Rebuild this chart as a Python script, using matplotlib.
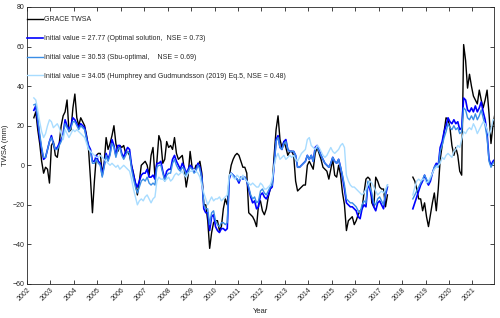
import numpy as np
import matplotlib
matplotlib.use("Agg")
import matplotlib.pyplot as plt

plt.rcParams['font.family'] = ['Liberation Sans', 'DejaVu Sans']

# ---- month indices (months since Jan 2002) ----
months_grace = list(range(3, 185))      # Apr 2002 .. May 2017
months_fo = list(range(197, 240))       # Jun 2018 .. Dec 2021

# ---- GRACE TWSA (mm) ----
grace_1 = [24, 27, 18, 11, 2, -4, -1, -2, -9,
           10, 12, 5, 4, 11, 20, 25, 27, 33, 17, 18, 29,
           36, 24, 20, 24, 22, 20, 15, 8, -7, -24, -8, 5,
           6, 6, -4, 1, 14, 8, 11, 15, 20, 11, 7, 10,
           9, 10, 6, 7, 5, 0, -4, -9, -15, -8, 0, 1,
           2, 0, -5, 5, 9, -6, 2, 15, 12, 1, 3, 12,
           9, 10, 8, 14, 6, 3, 4, 5, -2, -11, -5, 7,
           -1, -3, 0, 0, 2, -4, -20, -20, -28, -42, -34, -29,
           -28, -28, -33, -31, -22, -17, -20, -6, 0, 3, 5, 6,
           5, 2, -1, -1, -4, -24, -25, -26, -28, -31, -20, -18,
           -23, -25, -22, -16, -12, -10, 5, 18, 25, 13, 9, 12,
           9, 5, 7, 7, 5, -8, -13, -12, -11, -10, -10, 0,
           2, 0, -2, 6, 9, 6, 3, -1, -2, -3, -7, -2,
           3, -5, -6, 0, -5, -14, -20, -33, -28, -27, -26, -30,
           -28, -25, -23, -22, -14, -7, -6, -7, -19, -21, -6, -8,
           -11, -12, -12, -21, -15]
grace_2 = [-6, -8, -12, -17, -17, -23, -19, -26, -31, -25, -19, -14,
           -23, -12, 3, 10, 17, 24, 23, 19, 10, 5, 9, 5,
           -3, -5, 61, 53, 39, 46, 40, 35, 33, 31, 38, 33,
           29, 33, 38, 26, 11, 20, 26]

# ---- Optimal solution (initial value 27.77) ----
opt_1 = [27.77, 30, 22, 14, 8, 3, 4, 8, 12,
         15, 11, 8, 9, 11, 13, 16, 23, 20, 18, 20, 24,
         23, 21, 19, 21, 20, 19, 14, 10, 8, 2, 2, 5,
         2, 1, -5, 0, 6, 3, 6, 13, 10, 5, 10, 10,
         6, 4, 7, 9, 8, 0, -5, -9, -11, -8, -5, -4,
         -4, -2, -6, -6, -5, -7, 1, 1, 2, -3, -7, -3,
         -2, -2, 3, 5, 2, 0, -2, 1, -1, -4, -2, 0,
         -1, -3, -2, 1, -1, -6, -22, -24, -24, -33, -26, -25,
         -31, -33, -34, -32, -32, -33, -32, -7, -4, -5, -6, -7,
         -9, -6, -7, -6, -8, -12, -16, -19, -18, -22, -21, -15,
         -14, -16, -17, -15, -12, -11, 0, 13, 15, 9, 8, 12,
         13, 8, 7, 7, 7, 5, -1, -1, 0, 1, 2, 5,
         3, 5, 2, 9, 10, 8, 5, 3, 1, 0, -1, 1,
         4, 2, 1, 3, -1, -6, -12, -19, -20, -21, -21, -22,
         -23, -26, -27, -22, -20, -21, -9, -12, -16, -21, -23, -19,
         -18, -20, -22, -15, -11]
opt_2 = [-22, -19, -16, -13, -10, -8, -5, -8, -10, -8, -4, -1,
         1, 0, 9, 12, 17, 20, 24, 22, 21, 23, 21, 22,
         18, 19, 34, 33, 28, 27, 29, 27, 30, 27, 29, 32,
         27, 23, 16, 3, 0, 2, 3]

# ---- Sub-optimal (initial value 30.53) ----
sub_1 = [30.53, 31, 24, 16, 9, 4, 4, 8, 12,
         14, 11, 8, 8, 10, 12, 15, 21, 19, 17, 19, 22,
         22, 20, 18, 20, 19, 18, 13, 9, 7, 1, 1, 3,
         1, 0, -6, -1, 5, 2, 5, 11, 9, 4, 8, 9,
         5, 3, 5, 7, 6, -2, -7, -11, -14, -11, -8, -7,
         -8, -6, -9, -10, -9, -10, -1, 0, 0, -4, -8, -5,
         -4, -4, 1, 3, 0, -2, -3, -1, -2, -5, -3, -1,
         -2, -4, -3, 0, -2, -7, -20, -22, -22, -30, -24, -23,
         -28, -30, -31, -29, -29, -30, -29, -6, -4, -5, -6, -7,
         -8, -6, -7, -6, -8, -11, -15, -17, -16, -19, -18, -13,
         -12, -14, -15, -13, -11, -10, 0, 12, 14, 9, 8, 11,
         12, 8, 7, 7, 7, 5, -1, -1, 0, 1, 2, 5,
         3, 5, 2, 8, 9, 7, 5, 3, 1, 0, -1, 1,
         4, 2, 1, 3, -1, -5, -10, -17, -18, -19, -19, -20,
         -21, -23, -24, -20, -18, -19, -8, -11, -14, -19, -20, -17,
         -16, -18, -20, -14, -10]
sub_2 = [-17, -15, -13, -11, -9, -7, -5, -7, -9, -7, -4, -1,
         0, -1, 7, 10, 14, 17, 21, 19, 18, 20, 18, 19,
         16, 17, 29, 28, 24, 23, 25, 23, 26, 23, 25, 28,
         24, 20, 14, 2, -1, 1, 2]

# ---- Humphrey and Gudmundsson (2019) Eq.5 (initial value 34.05) ----
hum_1 = [34.05, 33, 28, 22, 17, 14, 16, 20, 23,
         22, 19, 20, 21, 19, 16, 13, 18, 16, 14, 16, 18,
         17, 18, 17, 16, 15, 14, 11, 8, 7, 6, 5, 4,
         4, 5, 4, 3, 2, 1, 0, 1, 0, -1, 0, -2,
         -1, 0, -1, -2, -3, -7, -12, -16, -20, -18, -17, -18,
         -16, -15, -17, -19, -17, -16, -8, -6, -7, -7, -8, -7,
         -6, -8, -7, -5, -4, -5, -4, -3, -5, -6, -4, -3,
         -3, -2, -3, -4, -6, -10, -14, -17, -20, -18, -16, -18,
         -17, -17, -16, -18, -17, -16, -15, -5, -4, -6, -7, -5,
         -6, -7, -5, -7, -8, -9, -10, -9, -10, -11, -11, -9,
         -10, -12, -12, -11, -10, -7, 0, 4, 6, 3, 4, 5,
         3, 4, 5, 4, 5, 3, 2, 4, 6, 7, 8, 13,
         14, 10, 9, 8, 10, 9, 7, 5, 4, 5, 7, 9,
         7, 6, 7, 8, 10, 11, 9, -5, -8, -10, -11, -11,
         -12, -13, -14, -15, -14, -12, -10, -8, -9, -11, -13, -15,
         -14, -13, -14, -12, -10]
hum_2 = [-15, -11, -8, -7, -8, -7, -7, -9, -8, -6, -4, -2,
         -1, 0, 1, 4, 3, 5, 6, 5, 4, 7, 8, 10,
         9, 13, 17, 16, 18, 19, 18, 21, 19, 16, 18, 20,
         22, 21, 18, 15, 18, 23, 23]

labels = ['GRACE TWSA',
          'Initial value = 27.77 (Optimal solution,  NSE = 0.73)',
          'Initial value = 30.53 (Sbu-optimal,    NSE = 0.69)',
          'Initial value = 34.05 (Humphrey and Gudmundsson (2019) Eq.5, NSE = 0.48)']
colors = ['#000000', '#0000ff', '#3a8ee6', '#a8dcff']
year_ticks = list(range(2002, 2022))
y_ticks = list(range(-60, 81, 20))

t1 = 2002 + (np.array(months_grace) + 0.5) / 12.0
t2 = 2002 + (np.array(months_fo) + 0.5) / 12.0

fig = plt.figure(figsize=(5.0, 3.18), dpi=100)
ax = fig.add_axes([0.054, 0.107, 0.934, 0.871])

series = [(grace_1, grace_2), (opt_1, opt_2), (sub_1, sub_2), (hum_1, hum_2)]
widths = [1.0, 1.2, 1.0, 1.0]
for (s1, s2), c, lab, lw in zip(series, colors, labels, widths):
    ax.plot(t1, s1, color=c, lw=lw, label=lab)
    ax.plot(t2, s2, color=c, lw=lw)

ax.set_xlim(2002, 2021.92)
ax.set_ylim(-60, 80)
ax.set_xticks(year_ticks)
ax.set_xticklabels([str(y) for y in year_ticks], rotation=45, ha='right',
                   va='top', rotation_mode='anchor')
ax.set_yticks(y_ticks)

tc = '#262626'
ax.tick_params(direction='in', length=3, width=0.6, top=True, right=True,
               labelsize=5, colors=tc, pad=2)
for sp in ax.spines.values():
    sp.set_color(tc)
    sp.set_linewidth(0.6)

ax.set_xlabel('Year', fontsize=5.5, color=tc, labelpad=4)
ax.set_ylabel('TWSA (mm)', fontsize=5.5, color=tc, labelpad=2)

leg = ax.legend(loc='upper left', bbox_to_anchor=(0.0, 0.966), frameon=False,
                fontsize=5, handlelength=2.3, handletextpad=0.15,
                borderaxespad=0, borderpad=0, labelspacing=1.7)
for txt in leg.get_texts():
    txt.set_color(tc)

fig.savefig('out.png', dpi=100)
